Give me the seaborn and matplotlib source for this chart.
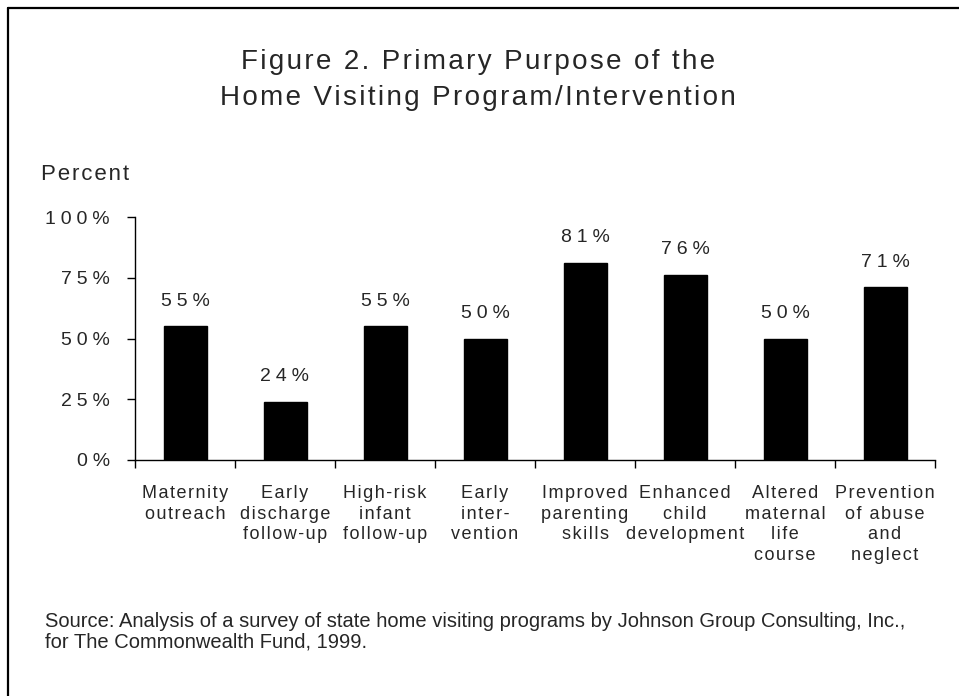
import matplotlib
matplotlib.use("Agg")
import matplotlib.pyplot as plt
from matplotlib.lines import Line2D
import seaborn as sns
import pandas as pd

categories = [
    "Maternity\noutreach",
    "Early\ndischarge\nfollow-up",
    "High-risk\ninfant\nfollow-up",
    "Early\ninter-\nvention",
    "Improved\nparenting\nskills",
    "Enhanced\nchild\ndevelopment",
    "Altered\nmaternal\nlife\ncourse",
    "Prevention\nof abuse\nand\nneglect",
]
values = [55, 24, 55, 50, 81, 76, 50, 71]
yticks = [0, 25, 50, 75, 100]

title = "Figure 2. Primary Purpose of the\nHome Visiting Program/Intervention"
ylabel = "Percent"
source = ("Source: Analysis of a survey of state home visiting programs by Johnson Group Consulting, Inc.,\n"
          "for The Commonwealth Fund, 1999.")

sns.set_theme(style="white")
FAM = ["Liberation Sans", "DejaVu Sans"]
plt.rcParams["font.family"] = FAM

WIDE = "\u2005"
HAIR = "\u200a"


def track(s, sp=HAIR):
    return "\n".join(sp.join(list(line)) for line in s.split("\n"))


df = pd.DataFrame({"cat": categories, "val": values})

W, H = 959, 696
fig = plt.figure(figsize=(W / 100, H / 100), dpi=100)
fig.patch.set_facecolor("white")
ax = fig.add_axes([135 / W, 1 - 460 / H, 800 / W, 243 / H])

sns.barplot(data=df, x="cat", y="val", color="black", width=0.43, ax=ax,
            saturation=1, edgecolor="black")
ax.set_xlim(-0.5, len(categories) - 0.5)
ax.set_ylim(0, 100)
ax.set_xlabel("")
ax.set_ylabel("")
for s in ["top", "right"]:
    ax.spines[s].set_visible(False)
for s in ["left", "bottom"]:
    ax.spines[s].set_color("black")
    ax.spines[s].set_linewidth(1.0)

ax.set_yticks(yticks)
ax.set_yticklabels([track(f"{v}%", WIDE) for v in yticks], fontsize=14, family=FAM)
ax.tick_params(axis="y", length=6, width=1, color="black", pad=12, direction="out", left=True)

ax.set_xticks(range(len(categories)))
ax.set_xticklabels([track(c) for c in categories], fontsize=13, family=FAM, linespacing=1.27)
ax.tick_params(axis="x", which="major", length=0, pad=18)
ax.set_xticks([i - 0.5 for i in range(len(categories) + 1)], minor=True)
ax.tick_params(axis="x", which="minor", length=6, width=1, color="black", direction="out", bottom=True)

for i, v in enumerate(values):
    ax.annotate(track(f"{v}%", WIDE), (i, v), xytext=(0, 15), textcoords="offset points",
                ha="center", va="baseline", fontsize=14, family=FAM)

fig.text(478 / W, 1 - 80 / H, track(title), ha="center", va="center", fontsize=20,
         family=FAM, linespacing=1.5)
fig.text(41 / W, 1 - 175 / H, track(ylabel), ha="left", va="center", fontsize=16, family=FAM)
fig.text(45 / W, 1 - 632 / H, source, ha="left", va="center", fontsize=14.5,
         family=FAM, linespacing=1.11)

fig.add_artist(Line2D([7.5 / W, 7.5 / W], [0, 1 - 7.5 / H], color="black", lw=1.6,
                      transform=fig.transFigure))
fig.add_artist(Line2D([7.5 / W, 1], [1 - 7.5 / H, 1 - 7.5 / H], color="black", lw=1.6,
                      transform=fig.transFigure))

fig.savefig("out.png", dpi=100, facecolor="white")
